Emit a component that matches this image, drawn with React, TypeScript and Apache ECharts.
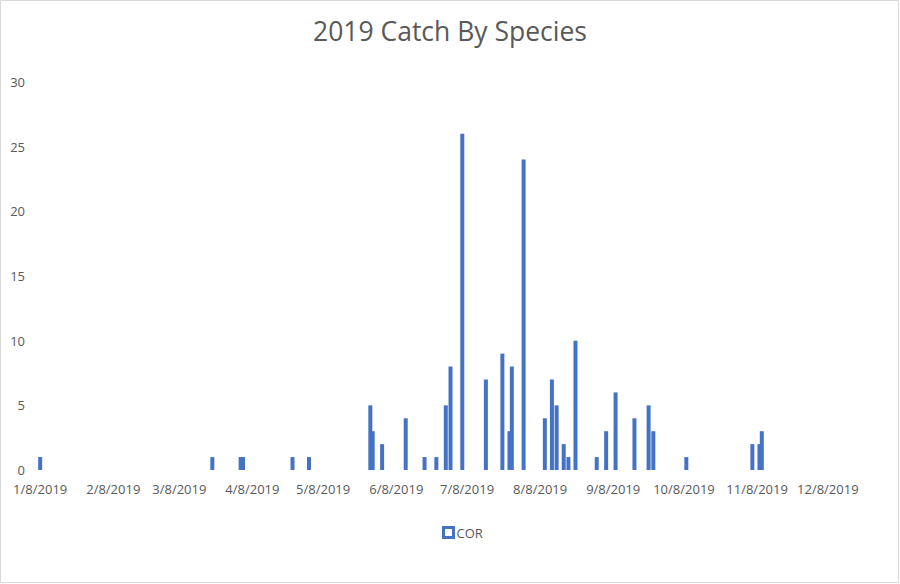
import React, { useEffect, useRef } from "react";
import * as echarts from "echarts";

const YEAR = 2019;
// catch dates (month/day) and counts for species COR
const catchDates: string[] = [
  "1/8", "3/22", "4/3", "4/4", "4/25", "5/2", "5/28", "5/29", "6/2", "6/12",
  "6/20", "6/25", "6/29", "7/1", "7/6", "7/16", "7/23", "7/26", "7/27", "8/1",
  "8/10", "8/13", "8/15", "8/18", "8/20", "8/23", "9/1", "9/5", "9/9", "9/17",
  "9/23", "9/25", "10/9", "11/6", "11/9", "11/10",
];
const corValues: number[] = [
  1, 1, 1, 1, 1, 1, 5, 3, 2, 4,
  1, 1, 5, 8, 26, 7, 9, 3, 8, 24,
  4, 7, 5, 2, 1, 10, 1, 3, 6, 4,
  5, 3, 1, 2, 2, 3,
];
// axis tick labels: the 8th of each month
const tickMonths: number[] = [1, 2, 3, 4, 5, 6, 7, 8, 9, 10, 11, 12];
const yTicks: number[] = [0, 5, 10, 15, 20, 25, 30];

const toTs = (md: string) => {
  const [m, d] = md.split("/").map(Number);
  return new Date(YEAR, m - 1, d).getTime();
};

export default function App() {
  const ref = useRef<HTMLDivElement>(null);
  useEffect(() => {
    if (!ref.current) return;
    const chart = echarts.init(ref.current, undefined, { renderer: "svg" });
    const font = "'Open Sans', sans-serif";
    const grey = "#595959";
    const data = catchDates.map((d, i) => [toTs(d), corValues[i]]);
    chart.setOption({
      animation: false,
      backgroundColor: "#ffffff",
      title: {
        text: "2019 Catch By Species",
        left: "center",
        top: 12,
        textStyle: { fontFamily: font, fontSize: 26.5, fontWeight: "normal", color: grey },
      },
      legend: {
        data: ["COR"],
        left: 437,
        top: 521,
        itemWidth: 10,
        itemHeight: 10,
        itemGap: 10,
        icon: "rect",
        itemStyle: { color: "#ffffff", borderColor: "#4472C4", borderWidth: 3 },
        textStyle: { fontFamily: font, fontSize: 13, color: grey, padding: [0, 0, 0, -2] },
      },
      grid: { left: 39, right: 71, top: 82, bottom: 114, containLabel: false },
      xAxis: {
        type: "value",
        min: new Date(YEAR, 0, 7, 12).getTime(),
        max: new Date(YEAR, 11, 8, 12).getTime(),
        axisLine: { show: false },
        axisTick: { show: false },
        splitLine: { show: false },
        axisLabel: {
          customValues: tickMonths.map((m) => new Date(YEAR, m - 1, 8).getTime()),
          formatter: (v: number) => {
            const dt = new Date(v);
            return `${dt.getMonth() + 1}/${dt.getDate()}/${dt.getFullYear()}`;
          },
          hideOverlap: false,
          fontFamily: font,
          fontSize: 13,
          color: grey,
          margin: 12,
        },
      },
      yAxis: {
        type: "value",
        min: yTicks[0],
        max: yTicks[yTicks.length - 1],
        interval: 5,
        axisLine: { show: false },
        axisTick: { show: false },
        splitLine: { show: false },
        axisLabel: { fontFamily: font, fontSize: 13, color: grey, margin: 14 },
      },
      series: [
        {
          name: "COR",
          type: "bar",
          data,
          barWidth: 4,
          itemStyle: { color: "#4472C4" },
        },
      ],
      graphic: [
        {
          type: "rect",
          shape: { x: 0.5, y: 0.5, width: 898, height: 582 },
          style: { fill: "none", stroke: "#d9d9d9", lineWidth: 1 },
          silent: true,
        },
      ],
    });
    return () => chart.dispose();
  }, []);
  return (
    <div
      ref={ref}
      style={{ position: "fixed", left: 0, top: 0, width: 900, height: 584 }}
    />
  );
}
